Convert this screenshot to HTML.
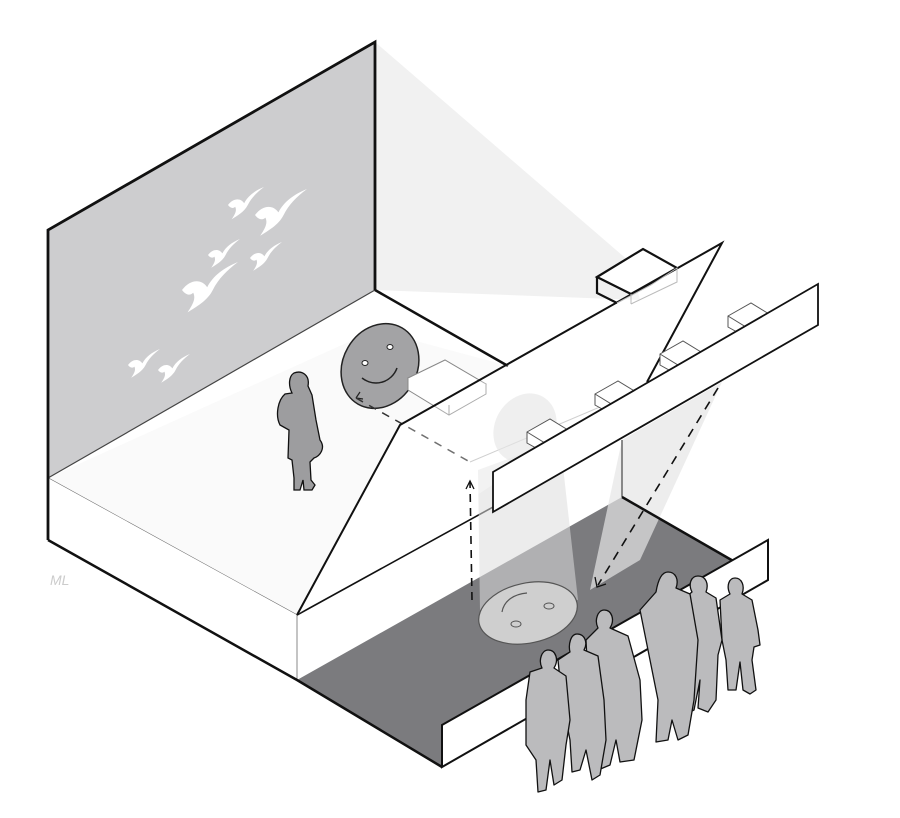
<!DOCTYPE html>
<html><head><meta charset="utf-8"><style>html,body{margin:0;padding:0;background:#fff}svg{display:block}</style></head>
<body>
<svg width="900" height="818" viewBox="0 0 900 818" xmlns="http://www.w3.org/2000/svg">
<defs>
<path id="bird" d="M0,0 C6,-8 14,-8 18,-2 C22,-10 30,-16 40,-20 C32,-14 26,-8 22,0 C18,8 10,12 4,16 C8,10 10,6 8,2 C6,4 3,4 0,0 Z" fill="#fff"/>
</defs>
<rect width="900" height="818" fill="#fff"/>
<polygon points="375,42 630,262 640,300 375,290" fill="#f1f1f1"/>
<polygon points="48,230 375,42 375,290 48,478" fill="#cdcdcf"/>
<use href="#bird" transform="translate(228,205) scale(0.9)"/>
<use href="#bird" transform="translate(255,215) scale(1.3)"/>
<use href="#bird" transform="translate(208,255) scale(0.8)"/>
<use href="#bird" transform="translate(250,258) scale(0.8)"/>
<use href="#bird" transform="translate(182,290) scale(1.4)"/>
<use href="#bird" transform="translate(128,365) scale(0.8)"/>
<use href="#bird" transform="translate(158,370) scale(0.8)"/>
<polygon points="48,478 375,290 505,365 400,425 297,615" fill="#fff"/>
<polygon points="48,478 375,330 505,365 400,425 297,615" fill="#f6f6f6" opacity="0.5"/>
<line x1="48" y1="478" x2="375" y2="290" stroke="#444" stroke-width="1.2"/>
<line x1="375" y1="290" x2="508" y2="366" stroke="#111" stroke-width="2.5"/>
<line x1="48" y1="478" x2="297" y2="615" stroke="#666" stroke-width="1"/>
<polygon points="48,478 297,615 297,680 48,540" fill="#fff"/>
<polygon points="297,615 622,440 622,497 297,680" fill="#fff"/>
<line x1="297" y1="615" x2="297" y2="680" stroke="#888" stroke-width="1"/>
<line x1="297" y1="615" x2="622" y2="436" stroke="#111" stroke-width="1.6"/>
<polygon points="297,680 622,497 768,580 442,767" fill="#7b7b7e"/>
<polygon points="478,470 560,440 578,600 480,610" fill="#ddd" opacity="0.55"/>
<polygon points="622,440 722,382 640,560 590,590" fill="#e6e6e6" opacity="0.7"/>
<line x1="622" y1="440" x2="622" y2="497" stroke="#666" stroke-width="1.5"/>
<ellipse cx="528" cy="613" rx="50" ry="30" transform="rotate(-12 528 613)" fill="#cfcfcf" stroke="#555" stroke-width="1.2"/>
<path d="M502,612 C504,600 515,594 527,593" fill="none" stroke="#555" stroke-width="1.2"/>
<ellipse cx="516" cy="624" rx="5" ry="3" fill="none" stroke="#555"/>
<ellipse cx="549" cy="606" rx="5" ry="3" fill="none" stroke="#555"/>
<polyline points="48,540 297,680 442,767" fill="none" stroke="#111" stroke-width="2.5"/>
<polyline points="622,497 735,562" fill="none" stroke="#111" stroke-width="2.5"/>
<polygon points="442,725 768,540 768,580 442,767" fill="#fff" stroke="#111" stroke-width="2"/>
<polyline points="48,540 48,230 375,42 375,290" fill="none" stroke="#111" stroke-width="2.8"/>
<ellipse cx="380" cy="366" rx="37" ry="44" transform="rotate(30 380 366)" fill="#a3a3a5" stroke="#222" stroke-width="1.5"/>
<ellipse cx="365" cy="363" rx="3" ry="2.5" fill="#fff" stroke="#222"/>
<ellipse cx="390" cy="347" rx="3" ry="2.5" fill="#fff" stroke="#222"/>
<path d="M362,378 C375,388 392,382 397,368" fill="none" stroke="#222" stroke-width="1.5"/>
<path d="M356,398 l4,-6 M356,398 l7,1" stroke="#222" stroke-width="1.2"/>
<path d="M294,373 C302,370 310,375 308,386 L312,395 L316,420 L320,440 C326,448 320,456 314,458 L310,462 L311,480 L315,485 L312,490 L304,490 L303,480 L300,490 L294,490 L294,478 L292,460 L288,458 L289,430 L280,425 C275,415 278,400 285,394 L292,393 C288,385 289,376 294,373 Z" fill="#9d9d9f" stroke="#111" stroke-width="1.3"/>
<polygon points="408,378 445,360 486,384 449,405" fill="#fff" stroke="#888" stroke-width="1"/>
<polyline points="408,378 408,390 449,415 486,394 486,384" fill="#fff" stroke="#888" stroke-width="1"/>
<line x1="449" y1="405" x2="449" y2="415" stroke="#888"/>
<line x1="356" y1="398" x2="470" y2="462" stroke="#333" stroke-width="1.5" stroke-dasharray="8,7"/>
<line x1="470" y1="462" x2="640" y2="390" stroke="#bbb" stroke-width="1"/>
<ellipse cx="525" cy="428" rx="30" ry="36" transform="rotate(30 525 428)" fill="#dcdcdc" opacity="0.65"/>
<polygon points="297,615 400,425 722,243 647,382" fill="#fff" opacity="0.3"/>
<polyline points="297,615 400,425 722,243 647,382" fill="none" stroke="#111" stroke-width="2"/>
<polygon points="597,277 643,249 677,268 631,294" fill="#fff" stroke="#111" stroke-width="2.2"/>
<polyline points="597,277 597,293 617,303" fill="none" stroke="#111" stroke-width="2.2"/>
<polyline points="617,303 651,285 677,268 677,282 631,304" fill="none" stroke="#bbb" stroke-width="1"/>
<line x1="631" y1="294" x2="631" y2="304" stroke="#bbb"/>
<g fill="#fff" stroke="#555" stroke-width="1">
<polygon points="527,432 550,419 568,430 568,440 545,453 527,443"/>
<polyline points="527,432 545,443 568,430 M545,443 545,453" fill="none"/>
<polygon points="595,394 618,381 636,392 636,402 613,415 595,405"/>
<polyline points="595,394 613,405 636,392 M613,405 613,415" fill="none"/>
<polygon points="660,354 683,341 701,352 701,362 678,375 660,365"/>
<polyline points="660,354 678,365 701,352 M678,365 678,375" fill="none"/>
<polygon points="728,316 751,303 769,314 769,324 746,337 728,327"/>
<polyline points="728,316 746,327 769,314 M746,327 746,337" fill="none"/>
</g>
<polygon points="493,472 818,284 818,325 493,512" fill="#fff" stroke="#111" stroke-width="1.8"/>
<line x1="472" y1="600" x2="470" y2="482" stroke="#111" stroke-width="1.6" stroke-dasharray="8,6"/>
<path d="M466,489 L470,481 L474,489" fill="none" stroke="#111" stroke-width="1.3"/>
<line x1="718" y1="388" x2="598" y2="585" stroke="#111" stroke-width="1.6" stroke-dasharray="9,7"/>
<path d="M595,577 L597,587 L606,584" fill="none" stroke="#111" stroke-width="1.3"/>
<g fill="#bbbbbd" stroke="#111" stroke-width="1.3" stroke-linejoin="round">
<path d="M735,578 C742,578 745,586 742,594 L752,600 L758,630 L760,645 L754,647 L752,660 L756,690 L750,694 L743,690 L740,662 L736,690 L728,690 L726,660 L722,640 L720,600 L730,594 C726,586 729,578 735,578 Z"/>
<path d="M698,576 C706,576 709,584 706,592 L716,598 L722,640 L718,655 L716,700 L708,712 L698,708 L700,680 L694,710 L684,715 L680,700 L684,650 L682,600 L692,592 C688,584 691,576 698,576 Z"/>
<path d="M668,572 C676,572 679,580 676,588 L690,594 L698,640 L694,700 L688,735 L678,740 L672,720 L668,740 L656,742 L658,700 L650,660 L640,610 L656,592 C658,580 662,572 668,572 Z"/>
<path d="M604,610 C612,610 615,620 610,628 L628,636 L640,680 L642,720 L634,760 L620,762 L616,740 L610,765 L598,770 L596,730 L588,680 L586,640 L598,628 C594,620 598,610 604,610 Z"/>
<path d="M577,634 C585,634 588,643 584,650 L598,656 L604,700 L606,740 L600,775 L592,780 L586,750 L580,770 L572,772 L570,740 L562,700 L558,660 L570,652 C568,644 571,634 577,634 Z"/>
<path d="M548,650 C556,650 559,660 554,668 L566,676 L570,720 L566,745 L562,780 L554,785 L550,760 L546,790 L538,792 L536,760 L526,745 L526,700 L530,672 L542,668 C538,660 542,650 548,650 Z"/>
</g>
<text x="50" y="585" font-family="Liberation Sans, sans-serif" font-size="14" fill="#ccc" font-style="italic">ML</text>
</svg>
</body></html>
